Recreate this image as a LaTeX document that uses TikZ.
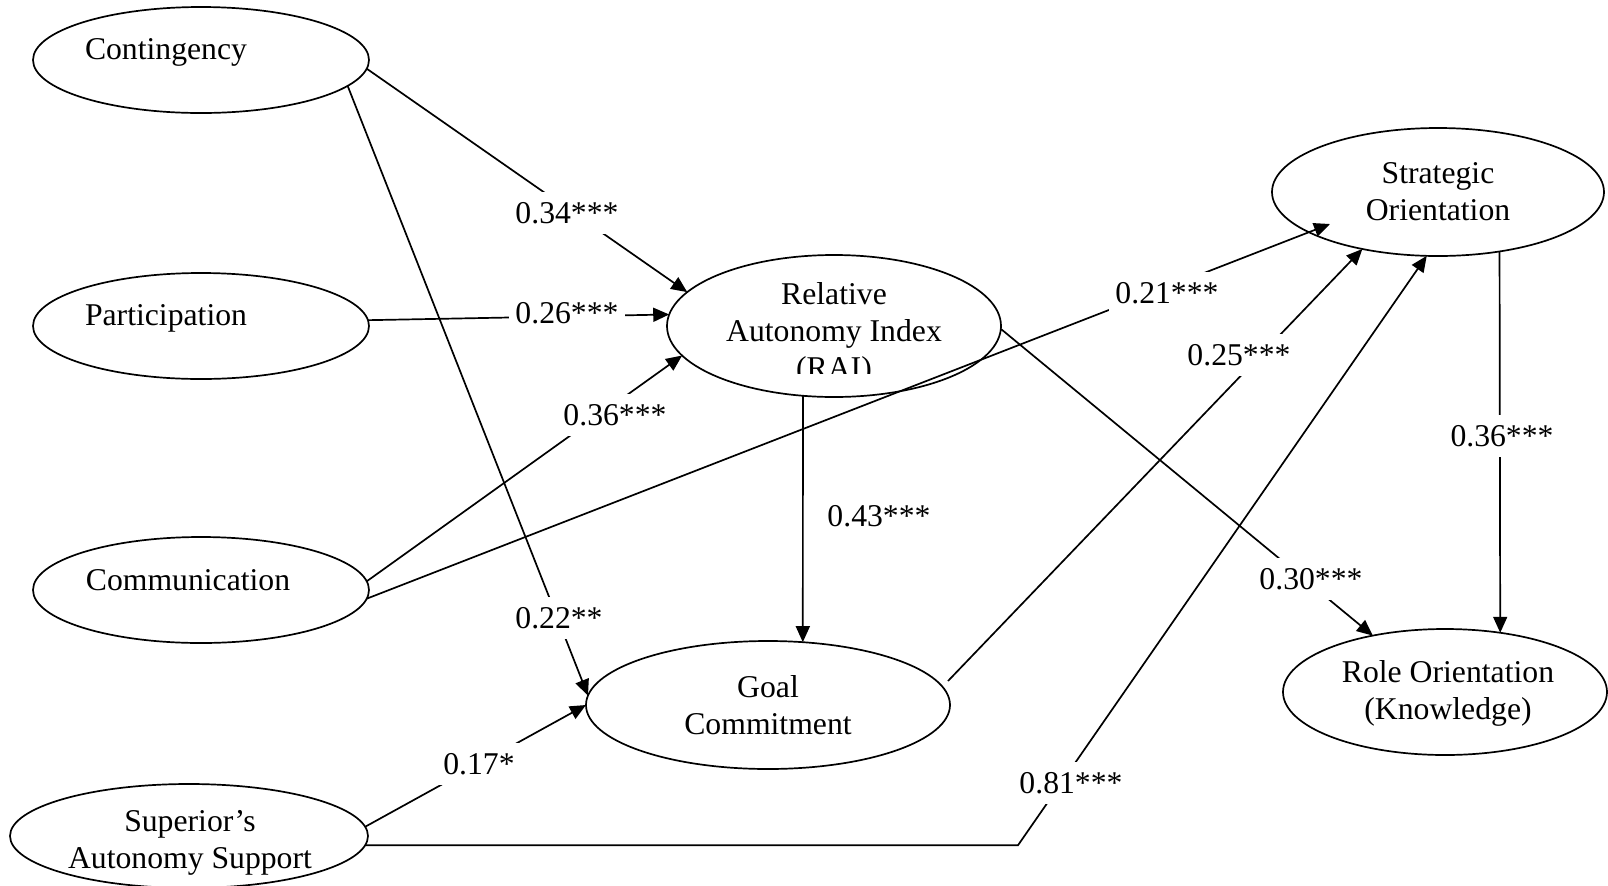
\documentclass[tikz,border=0pt]{standalone}
\usepackage{fontspec}
\setmainfont{Liberation Serif}
\usetikzlibrary{shapes.geometric,arrows.meta,calc}
\begin{document}
\begin{tikzpicture}[x=0.5pt,y=-0.5pt,
  font=\fontsize{15.85pt}{18.5pt}\selectfont,
  construct/.style={draw,ellipse,line width=0.85pt,inner sep=0pt,outer sep=0pt},
  caption/.style={inner sep=0pt,align=center},
  link/.style={line width=0.85pt,-{Triangle[length=8pt,width=7pt]}},
  coef/.style={fill=white,inner xsep=3pt,inner ysep=0pt,minimum height=21pt}]
\useasboundingbox (0,0) rectangle (1608,885);

% latent constructs
\node[construct,minimum width=168pt,minimum height=53pt] (cont) at (201,60) {};
\node[construct,minimum width=168pt,minimum height=53pt] (part) at (201,326) {};
\node[construct,minimum width=168pt,minimum height=53pt] (comm) at (201,590) {};
\node[construct,minimum width=179pt,minimum height=52pt] (sup) at (189,836) {};
\node[construct,minimum width=167pt,minimum height=71pt] (rai) at (834,326) {};
\node[construct,minimum width=182pt,minimum height=64pt] (goal) at (768,705) {};
\node[construct,minimum width=166pt,minimum height=64pt] (strat) at (1438,192) {};
\node[construct,minimum width=162pt,minimum height=63pt] (role) at (1445,692) {};

% construct names
\node[caption] (conttext) at (166,52) {Contingency};
\node[caption] (parttext) at (166,318) {Participation};
\node[caption] (commtext) at (188,580) {Communication};
\node[caption] (suptext) at (190,843) {Superior’s\\Autonomy Support};
\begin{scope}
  \clip (600,250) rectangle (1070,373);
  \node[caption] (raitext) at (834,334) {Relative\\Autonomy Index\\(RAI)};
\end{scope}
\node[caption] (goaltext) at (768,705) {Goal\\Commitment};
\node[caption] (strattext) at (1438,192) {Strategic\\Orientation};
\node[caption] (roletext) at (1448,693) {Role Orientation\\(Knowledge)};

% structural paths
\coordinate (bend) at (1018,845);
\draw[link] (cont.-3) -- (rai.167);
\draw[link] (cont.-10) -- (goal.177);
\draw[link] (part.2) -- (rai.176);
\draw[link] (comm.3) -- (rai.191);
\draw[link] (comm.-3) -- ($(strat.center)+(-108,32)$);
\draw[link] (rai.246) -- (goal.61);
\draw[link] (rai.-1) -- (role.142);
\draw[link] ($(goal.center)+(180,-24)$) -- (strat.217);
\draw[link] (sup.3.5) -- (goal.180);
\draw[link] (sup.-3) -- (sup.-3 -| bend) -- (strat.260);
\draw[link] (strat.-44.3) -- (role.47.7);

% path coefficients
\node[coef] (c1) at (567,213) {0.34***};
\node[coef] (c2) at (567,313) {0.26***};
\node[coef] (c3) at (615,415) {0.36***};
\node[coef] (c4) at (559,618) {0.22**};
\node[coef] (c5) at (479,764) {0.17*};
\node[coef] (c6) at (879,516) {0.43***};
\node[coef] (c7) at (1167,293) {0.21***};
\node[coef] (c8) at (1239,355) {0.25***};
\node[coef] (c9) at (1311,579) {0.30***};
\node[coef] (c10) at (1071,783) {0.81***};
\node[coef] (c11) at (1502,436) {0.36***};
\end{tikzpicture}
\end{document}
